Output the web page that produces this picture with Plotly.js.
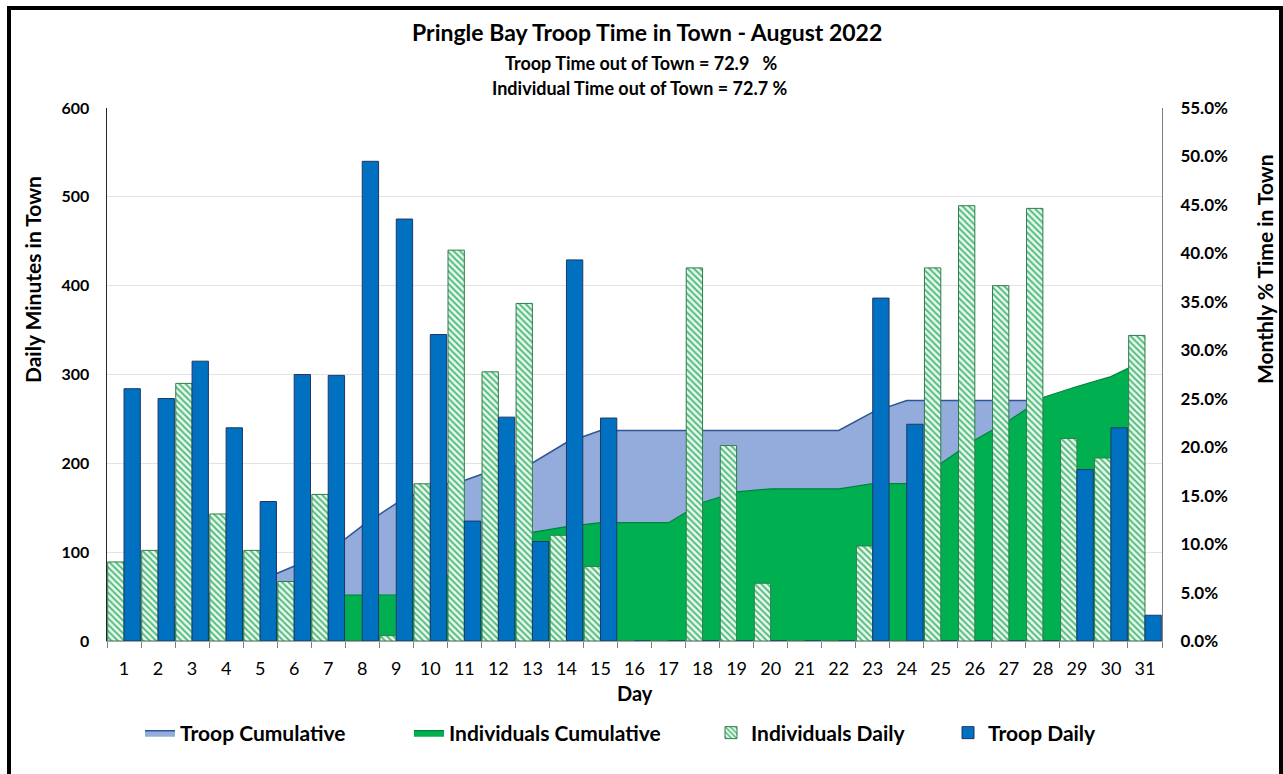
<!DOCTYPE html>
<html>
<head>
<meta charset="utf-8">
<script src="https://cdn.plot.ly/plotly-3.0.1.min.js"></script>
<style>
  html, body { margin:0; padding:0; background:#fff; overflow:hidden; }
  #chart { position:absolute; left:0; top:0; width:1283px; height:774px; }
  #frame { position:absolute; left:7px; top:6px; width:1276px; height:800px; border:4px solid #000; border-bottom:none; box-sizing:border-box; pointer-events:none; }
</style>
</head>
<body>
<div id="chart"></div>
<div id="frame"></div>
<script>
// ---- data ----
const days = ['1','2','3','4','5','6','7','8','9','10','11','12','13','14','15','16','17','18','19','20','21','22','23','24','25','26','27','28','29','30','31'];
const individualsDaily = [89,102,290,143,102,67,165,0,6,177,440,303,380,119,84,0,0,420,220,65,0,0,107,0,420,490,400,487,228,206,344];
const troopDaily = [284,273,315,240,157,300,299,540,475,345,135,252,112,429,251,0,0,0,0,0,0,0,386,244,0,0,0,0,193,240,29];
const troopCumulativePct = [1.4,2.75,4.3,5.48,6.25,7.73,9.21,11.87,14.21,15.91,16.57,17.82,18.37,20.48,21.72,21.72,21.72,21.72,21.72,21.72,21.72,21.72,23.62,24.82,24.82,24.82,24.82,24.82,25.78,26.96,27.1];
const individualsCumulativePct = [0.44,0.95,2.38,3.09,3.59,3.93,4.74,4.74,4.77,5.65,7.83,9.33,11.21,11.8,12.21,12.21,12.21,14.29,15.38,15.7,15.7,15.7,16.23,16.23,18.31,20.74,22.72,25.13,26.26,27.28,28.98];
const titleText = 'Pringle Bay Troop Time in Town - August 2022';
const sub1 = 'Troop Time out of Town = 72.9\u00A0\u00A0 %';
const sub2 = 'Individual Time out of Town = 72.7 %';

const FONT = 'Lato, "Open Sans", sans-serif';

const traces = [
  {
    name: 'Troop Cumulative', type: 'scatter', mode: 'lines', legend: 'legend',
    x: days, y: troopCumulativePct, xaxis: 'x', yaxis: 'y',
    fill: 'tozeroy', fillcolor: '#93ACDC',
    line: { color: '#2F5597', width: 1.5 }
  },
  {
    name: 'Individuals Cumulative', type: 'scatter', mode: 'lines', legend: 'legend2',
    x: days, y: individualsCumulativePct, xaxis: 'x', yaxis: 'y',
    fill: 'tozeroy', fillcolor: '#00B050',
    line: { color: '#00843D', width: 1.2 }
  },
  {
    name: 'Individuals Daily', type: 'bar', legend: 'legend3',
    x: days, y: individualsDaily, xaxis: 'x', yaxis: 'y2',
    marker: {
      color: '#e6f6ec',
      line: { color: '#2f7d4a', width: 1 },
      pattern: { shape: '\\', fgcolor: '#4cbb78', bgcolor: '#e9f7ee', size: 4.5, solidity: 0.4 }
    }
  },
  {
    name: 'Troop Daily', type: 'bar', legend: 'legend4',
    x: days, y: troopDaily, xaxis: 'x', yaxis: 'y2',
    marker: { color: '#0070C0', line: { color: '#1F3864', width: 1 } }
  }
];

const L = 107, R = 1162, T = 108, B = 641;
const px2x = p => (p - L) / (R - L);
const px2y = p => (B - p) / (B - T);

const legendFont = { family: FONT, size: 21, weight: 700, color: '#000' };
function legendAt(textStartPx) {
  return {
    orientation: 'h', x: px2x(textStartPx - 40), xanchor: 'left', y: px2y(733), yanchor: 'middle',
    font: legendFont, bgcolor: 'rgba(0,0,0,0)', borderwidth: 0
  };
}

const layout = {
  width: 1283, height: 774,
  margin: { l: L, r: 1283 - R, t: T, b: 774 - B, pad: 0 },
  paper_bgcolor: '#ffffff', plot_bgcolor: '#ffffff',
  font: { family: FONT, color: '#000' },
  barmode: 'group', bargap: 0.04, bargroupgap: 0,
  showlegend: true,
  legend: legendAt(180),
  legend2: legendAt(449),
  legend3: legendAt(751),
  legend4: legendAt(988),
  xaxis: {
    type: 'category', tickson: 'boundaries', ticks: 'outside', ticklen: 6, tickcolor: '#7f7f7f',
    showline: true, linecolor: '#a6a6a6', linewidth: 1, showgrid: false, zeroline: false,
    tickfont: { family: FONT, size: 18, color: '#000' }, ticklabelstandoff: 11,
    range: [-0.5, 30.5]
  },
  yaxis: {
    side: 'right', range: [0, 55], dtick: 5, tickformat: '.1f', ticksuffix: '%',
    showgrid: false, zeroline: false, showline: true, linecolor: '#7f7f7f', linewidth: 1,
    ticks: '', tickfont: { family: FONT, size: 17, weight: 700, color: '#000' }, ticklabelstandoff: 14
  },
  yaxis2: {
    overlaying: 'y', side: 'left', range: [0, 600], dtick: 100,
    showgrid: true, gridcolor: '#e3e3e3', gridwidth: 1, zeroline: false,
    showline: true, linecolor: '#262626', linewidth: 1.5,
    ticks: '', tickfont: { family: FONT, size: 16, weight: 700, color: '#000' }, ticklabelstandoff: 13
  },
  annotations: [
    { text: '<b>' + titleText + '</b>', xref: 'paper', yref: 'paper', x: px2x(647), y: px2y(32), xanchor: 'center', yanchor: 'middle', showarrow: false, font: { family: FONT, size: 23, color: '#000' } },
    { text: '<b>' + sub1 + '</b>', xref: 'paper', yref: 'paper', x: px2x(641), y: px2y(63), xanchor: 'center', yanchor: 'middle', showarrow: false, font: { family: FONT, size: 18, color: '#000' } },
    { text: '<b>' + sub2 + '</b>', xref: 'paper', yref: 'paper', x: px2x(640), y: px2y(88), xanchor: 'center', yanchor: 'middle', showarrow: false, font: { family: FONT, size: 18, color: '#000' } },
    { text: '<b>Daily Minutes in Town</b>', xref: 'paper', yref: 'paper', x: px2x(32), y: px2y(280), xanchor: 'center', yanchor: 'middle', textangle: -90, showarrow: false, font: { family: FONT, size: 21, color: '#000' } },
    { text: '<b>Monthly % Time in Town</b>', xref: 'paper', yref: 'paper', x: px2x(1264), y: px2y(269), xanchor: 'center', yanchor: 'middle', textangle: -90, showarrow: false, font: { family: FONT, size: 21, color: '#000' } },
    { text: '<b>Day</b>', xref: 'paper', yref: 'paper', x: px2x(635), y: px2y(693), xanchor: 'center', yanchor: 'middle', showarrow: false, font: { family: FONT, size: 20, color: '#000' } }
  ]
};

Plotly.newPlot('chart', traces, layout, { staticPlot: true, displayModeBar: false });
</script>
</body>
</html>
